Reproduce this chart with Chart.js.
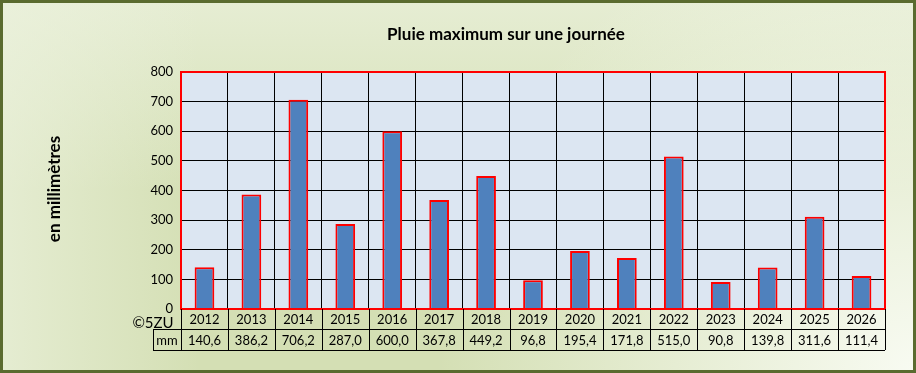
<!DOCTYPE html>
<html>
<head>
<meta charset="utf-8">
<script src="https://cdn.jsdelivr.net/npm/chart.js@4"></script>
<style>
  html, body { margin: 0; padding: 0; background: #fff; }
  #box { width: 916px; height: 373px; }
</style>
</head>
<body>
<div id="box"><canvas id="c" width="916" height="373"></canvas></div>
<script>
const years = [`2012`, `2013`, `2014`, `2015`, `2016`, `2017`, `2018`, `2019`, `2020`, `2021`, `2022`, `2023`, `2024`, `2025`, `2026`];
const rainMax = [140.6, 386.2, 706.2, 287.0, 600.0, 367.8, 449.2, 96.8, 195.4, 171.8, 515.0, 90.8, 139.8, 311.6, 111.4];
const yTicks = [0, 100, 200, 300, 400, 500, 600, 700, 800];

const FONT = `Lato, "Liberation Sans", sans-serif`;

// background, border, title, axis label and data table
const decor = {
  id: `decor`,
  beforeDraw(chart) {
    const ctx = chart.ctx;
    const w = chart.width, h = chart.height;
    ctx.save();
    ctx.fillStyle = `#d4dfb4`;
    ctx.fillRect(0, 0, w, h);
    let g = ctx.createLinearGradient(0, 0, 0, 190);
    g.addColorStop(0, `rgba(236,242,222,0.75)`);
    g.addColorStop(1, `rgba(236,242,222,0)`);
    ctx.fillStyle = g;
    ctx.fillRect(0, 0, w, h);
    g = ctx.createLinearGradient(0, 0, 200, 0);
    g.addColorStop(0, `rgba(236,242,222,0.7)`);
    g.addColorStop(1, `rgba(236,242,222,0)`);
    ctx.fillStyle = g;
    ctx.fillRect(0, 0, w, h);
    g = ctx.createRadialGradient(w, h, 0, w, h, 480);
    g.addColorStop(0, `rgba(248,251,242,1)`);
    g.addColorStop(1, `rgba(248,251,242,0)`);
    ctx.fillStyle = g;
    ctx.fillRect(0, 0, w, h);

    const a = chart.chartArea;
    ctx.fillStyle = `#dce6f2`;
    ctx.fillRect(a.left, a.top, a.right - a.left, a.bottom - a.top);
    ctx.restore();
  },
  afterDraw(chart) {
    const ctx = chart.ctx;
    const a = chart.chartArea;
    const x = chart.scales.x;
    const w = chart.width, h = chart.height;
    ctx.save();

    // plot frame
    ctx.strokeStyle = `#ff0000`;
    ctx.lineWidth = 2;
    ctx.strokeRect(a.left, a.top, a.right - a.left, a.bottom - a.top);

    // data table
    const r1 = a.bottom, r2 = a.bottom + 20, r3 = a.bottom + 41;
    const step = (a.right - a.left) / years.length;
    ctx.strokeStyle = `#000`;
    ctx.lineWidth = 1;
    ctx.beginPath();
    ctx.moveTo(153, r2 + 0.5); ctx.lineTo(a.right, r2 + 0.5);
    ctx.moveTo(153, r3 + 0.5); ctx.lineTo(a.right, r3 + 0.5);
    ctx.moveTo(153.5, r2); ctx.lineTo(153.5, r3);
    for (let i = 0; i <= years.length; i++) {
      const px = Math.round(a.left + i * step) + 0.5;
      ctx.moveTo(px, r1); ctx.lineTo(px, r3);
    }
    ctx.stroke();

    ctx.fillStyle = `#000`;
    ctx.font = `13px ${FONT}`;
    ctx.textAlign = `center`;
    ctx.textBaseline = `middle`;
    years.forEach((y, i) => {
      const cx = x.getPixelForValue(i);
      ctx.fillText(y, cx, (r1 + r2) / 2 + 1);
      ctx.fillText(rainMax[i].toFixed(1).replace(`.`, `,`), cx, (r2 + r3) / 2 + 1);
    });
    ctx.fillText(`mm`, 167, (r2 + r3) / 2 + 1);
    ctx.font = `15px ${FONT}`;
    ctx.fillText(`©5ZU`, 153, r1 + 14);

    // title
    ctx.font = `bold 17px ${FONT}`;
    ctx.fillText(`Pluie maximum sur une journée`, 506, 35);

    // y label
    ctx.translate(55, 189);
    ctx.rotate(-Math.PI / 2);
    ctx.fillText(`en millimètres`, 0, 0);
    ctx.setTransform(1, 0, 0, 1, 0, 0);

    // outer border
    ctx.strokeStyle = `#5a6b2f`;
    ctx.lineWidth = 3;
    ctx.strokeRect(1.5, 1.5, w - 3, h - 3);
    ctx.restore();
  }
};

new Chart(document.getElementById(`c`), {
  type: `bar`,
  data: {
    labels: years,
    datasets: [{
      label: `mm`,
      data: rainMax,
      backgroundColor: `#4f81bd`,
      borderColor: `#ff0000`,
      borderWidth: 2,
      categoryPercentage: 1,
      barPercentage: 0.42
    }]
  },
  options: {
    responsive: false,
    animation: false,
    layout: { padding: { left: 0, right: 31, top: 72, bottom: 64 } },
    plugins: {
      legend: { display: false },
      title: { display: false },
      tooltip: { enabled: false }
    },
    scales: {
      x: {
        offset: true,
        ticks: { display: false },
        grid: { display: true, offset: true, color: `#000`, lineWidth: 1, drawTicks: false },
        border: { display: false },
        afterFit(scale) { scale.height = 0; }
      },
      y: {
        min: 0,
        max: 800,
        afterBuildTicks(scale) { scale.ticks = yTicks.map(v => ({ value: v })); },
        ticks: { color: `#000`, font: { family: FONT, size: 13 }, padding: 8, callback: v => v },
        grid: { color: `#000`, lineWidth: 1, drawTicks: false },
        border: { display: false },
        afterFit(scale) { scale.width = 181; }
      }
    }
  },
  plugins: [decor]
});
</script>
</body>
</html>
